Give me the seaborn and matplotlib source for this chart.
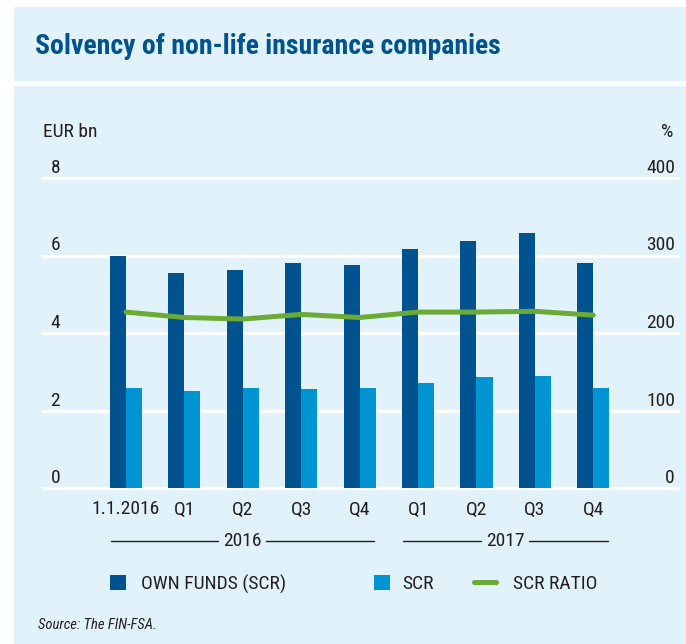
import matplotlib
matplotlib.use("Agg")
import matplotlib.pyplot as plt
from matplotlib import font_manager as fm
import seaborn as sns
import numpy as np
import pandas as pd
from matplotlib.transforms import ScaledTranslation, blended_transform_factory
from matplotlib.patches import Rectangle, Patch
from matplotlib.lines import Line2D

# ---- data ----
periods = ["1.1.2016", "Q1", "Q2", "Q3", "Q4", "Q1", "Q2", "Q3", "Q4"]
years = ["2016", "2016", "2016", "2016", "2016", "2017", "2017", "2017", "2017"]
own_funds = [6.00, 5.55, 5.63, 5.81, 5.75, 6.17, 6.37, 6.58, 5.81]
scr = [2.58, 2.50, 2.58, 2.55, 2.58, 2.71, 2.86, 2.89, 2.58]
scr_ratio = [227, 220, 218, 224, 220, 227, 227, 228, 223]
left_ticks = [0, 2, 4, 6, 8]
right_ticks = [0, 100, 200, 300, 400]
series_names = ["OWN FUNDS (SCR)", "SCR", "SCR RATIO"]

# ---- style ----
sns.set_style("white")
fonts = {(f.name, f.stretch) for f in fm.fontManager.ttflist}
names = {f.name for f in fm.fontManager.ttflist}
stretch = "normal"
if "Roboto Condensed" in names:
    fam = "Roboto Condensed"
elif any(n == "DejaVu Sans" and s in ("condensed", "semi-condensed") for n, s in fonts):
    fam = "DejaVu Sans"
    stretch = "condensed"
else:
    fam = "Roboto"
plt.rcParams["font.family"] = [fam, "DejaVu Sans"]
plt.rcParams["font.stretch"] = stretch

DARK = "#00538F"
LIGHT = "#0094D3"
GREEN = "#6CAA36"
BG = "#E1F2FA"
TXT = "#231F20"

W, H = 686, 644
fig = plt.figure(figsize=(W / 100, H / 100), dpi=100)
fig.patch.set_facecolor("white")


def fx(px):
    return px / W


def fy(py):
    return 1 - py / H


fig.add_artist(Rectangle((fx(14), fy(81)), fx(686) - fx(14), fy(7) - fy(81),
                         transform=fig.transFigure, color=BG, zorder=0, lw=0))
fig.add_artist(Rectangle((fx(14), fy(644)), fx(686) - fx(14), fy(86) - fy(644),
                         transform=fig.transFigure, color=BG, zorder=0, lw=0))

ax = fig.add_axes([fx(43), fy(488), fx(678) - fx(43), (488 - 178) / H])
ax.set_facecolor("none")

keys = [f"{y} {p}" for y, p in zip(years, periods)]
df = pd.DataFrame({
    "period": keys * 2,
    "series": [series_names[0]] * len(keys) + [series_names[1]] * len(keys),
    "value": own_funds + scr,
})
sns.barplot(data=df, x="period", y="value", hue="series",
            hue_order=series_names[:2],
            palette={series_names[0]: DARK, series_names[1]: LIGHT},
            width=0.55, saturation=1, linewidth=0, legend=False, ax=ax,
            zorder=2)

ax2 = ax.twinx()
ax2.set_facecolor("none")
sns.lineplot(x=np.arange(len(scr_ratio)), y=scr_ratio, ax=ax2, color=GREEN,
             lw=3.6, solid_capstyle="round", zorder=3)

for a in (ax, ax2):
    for s in a.spines.values():
        s.set_visible(False)
    a.set_xlabel("")
    a.set_ylabel("")

ax.set_ylim(0, 8)
ax2.set_ylim(0, 400)
ax.set_xlim(-1.421, 9.45)

fs = 14
ax.set_yticks(left_ticks)
ax.set_yticklabels([str(t) for t in left_ticks])
ax.tick_params(axis="y", length=0, pad=0, labelsize=fs, labelcolor=TXT)
ax2.set_yticks(right_ticks)
ax2.set_yticklabels([str(t) for t in right_ticks])
ax2.tick_params(axis="y", length=0, pad=0, labelsize=fs, labelcolor=TXT)
ax.set_xticks(range(len(periods)))
ax.set_xticklabels(periods)
ax.tick_params(axis="x", length=0, pad=9, labelsize=fs, labelcolor=TXT)

ax.grid(axis="y", color="white", lw=2.4)
ax.grid(axis="x", visible=False)
ax2.grid(False)
ax.set_axisbelow(True)
for gl in ax.get_ygridlines():
    gl.set_clip_on(False)

for lbl in ax.get_yticklabels():
    lbl.set_transform(lbl.get_transform() + ScaledTranslation(0.17, 0.12, fig.dpi_scale_trans))
for lbl in ax2.get_yticklabels():
    lbl.set_horizontalalignment("right")
    lbl.set_transform(lbl.get_transform() + ScaledTranslation(-0.03, 0.12, fig.dpi_scale_trans))

# year group labels
trans = blended_transform_factory(ax.transData, ax.transAxes)
yy = (488 - 541) / 310
for yr in dict.fromkeys(years):
    idx = [i for i, y in enumerate(years) if y == yr]
    x0, x1 = min(idx) - 0.26, max(idx) + 0.25
    ax.plot([x0, x1], [yy, yy], transform=trans, clip_on=False, color=TXT, lw=1)
    ax.text((x0 + x1) / 2, yy, yr, transform=trans, ha="center", va="center",
            fontsize=fs, color=TXT,
            bbox=dict(facecolor=BG, edgecolor="none", pad=3))

# titles / axis units
fig.text(fx(35), fy(46), "Solvency of non-life insurance companies",
         fontsize=20, fontweight="bold", color=DARK, ha="left", va="center")
fig.text(fx(43), fy(132), "EUR bn", fontsize=fs, color=TXT, ha="left", va="center")
fig.text(fx(673), fy(132), "%", fontsize=fs, color=TXT, ha="right", va="center")

# legends
em = fs * 100 / 72
common = dict(loc="center left", frameon=False, borderpad=0, borderaxespad=0,
              fontsize=fs, labelcolor=TXT)
fig.legend(handles=[Patch(facecolor=DARK, lw=0)], labels=[series_names[0]],
           bbox_to_anchor=(fx(110), fy(584)), handlelength=16 / em,
           handleheight=16 / em, handletextpad=15 / em, **common)
fig.legend(handles=[Patch(facecolor=LIGHT, lw=0)], labels=[series_names[1]],
           bbox_to_anchor=(fx(374), fy(584)), handlelength=16 / em,
           handleheight=16 / em, handletextpad=12 / em, **common)
fig.legend(handles=[Line2D([], [], color=GREEN, lw=3.6, solid_capstyle="round")],
           labels=[series_names[2]],
           bbox_to_anchor=(fx(474), fy(584)), handlelength=22 / em,
           handletextpad=17 / em, **common)

fig.text(fx(38), fy(625), "Source: The FIN-FSA.", fontsize=10.5, style="italic",
         color=TXT, ha="left", va="center")

fig.savefig("out.png", dpi=100, facecolor="white")
